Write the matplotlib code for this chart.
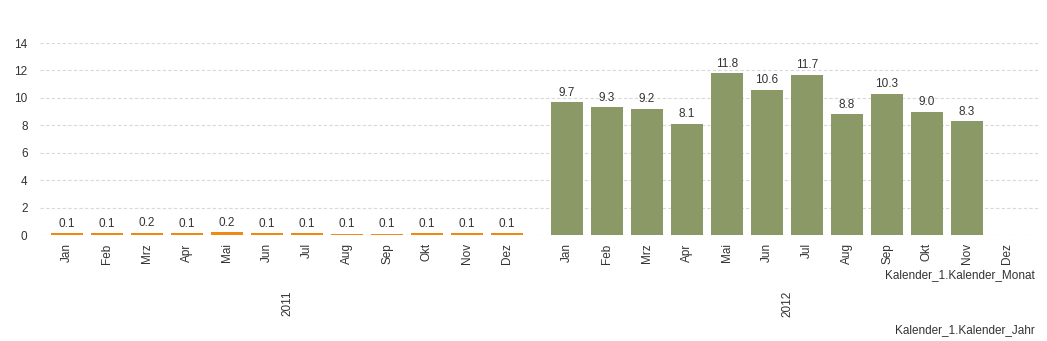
import matplotlib
matplotlib.use("Agg")
import matplotlib.pyplot as plt
import numpy as np

plt.rcParams['font.family'] = ['Liberation Sans', 'DejaVu Sans']

months = ["Jan", "Feb", "Mrz", "Apr", "Mai", "Jun", "Jul", "Aug", "Sep", "Okt", "Nov", "Dez"]
years = ["2011", "2012"]
values_2011 = [0.14, 0.14, 0.16, 0.14, 0.22, 0.13, 0.13, 0.10, 0.09, 0.13, 0.13, 0.13]
values_2012 = [9.7, 9.3, 9.2, 8.1, 11.8, 10.6, 11.7, 8.8, 10.3, 9.0, 8.3, None]
yticks = [0, 2, 4, 6, 8, 10, 12, 14]

color_2011 = "#EE8A12"
color_2012 = "#8A9966"
text_color = "#333333"
fs = 8.5

fig = plt.figure(figsize=(10.47, 3.41), dpi=100)
W, H = 1047, 341
ax = fig.add_axes([40 / W, 1 - 235 / H, 1000 / W, (235 - 43) / H])

group_gap = 0.5
x_2011 = np.arange(len(months), dtype=float)
x_2012 = np.arange(len(months), dtype=float) + len(months) + group_gap

width = 0.8
for xs, vals, col in [(x_2011, values_2011, color_2011), (x_2012, values_2012, color_2012)]:
    for x, v in zip(xs, vals):
        if v is None:
            continue
        ax.bar(x, v, width=width, color=col, zorder=3)
        ax.text(x, v + 0.25, f"{v:.1f}", ha="center", va="bottom", fontsize=fs, color=text_color)

ax.set_xlim(-0.675, 24.325)
ax.set_ylim(0, 14)
ax.set_yticks(yticks)
ax.set_yticklabels([str(t) for t in yticks], fontsize=fs, color=text_color)
ax.yaxis.grid(True, linestyle=(0, (3, 2)), color="#d9d9d9", linewidth=0.8, zorder=0)
ax.tick_params(axis="y", length=0, pad=9)
ax.tick_params(axis="x", length=0, pad=6)

xt = np.concatenate([x_2011, x_2012])
ax.set_xticks(xt)
ax.set_xticklabels(months + months, rotation=90, fontsize=fs, color=text_color)

for s in ax.spines.values():
    s.set_visible(False)

# year labels under each month group
for xs, yr in zip([x_2011, x_2012], years):
    cx = xs.mean()
    ax.text(cx, -5.0, yr, rotation=90, ha="center", va="center", fontsize=fs,
            color=text_color, transform=ax.transData, clip_on=False)

fig.text(1035 / W, 1 - 275 / H, "Kalender_1.Kalender_Monat", ha="right", va="center",
         fontsize=fs, color=text_color)
fig.text(1035 / W, 1 - 330 / H, "Kalender_1.Kalender_Jahr", ha="right", va="center",
         fontsize=fs, color=text_color)

fig.savefig("out.png", dpi=100)
